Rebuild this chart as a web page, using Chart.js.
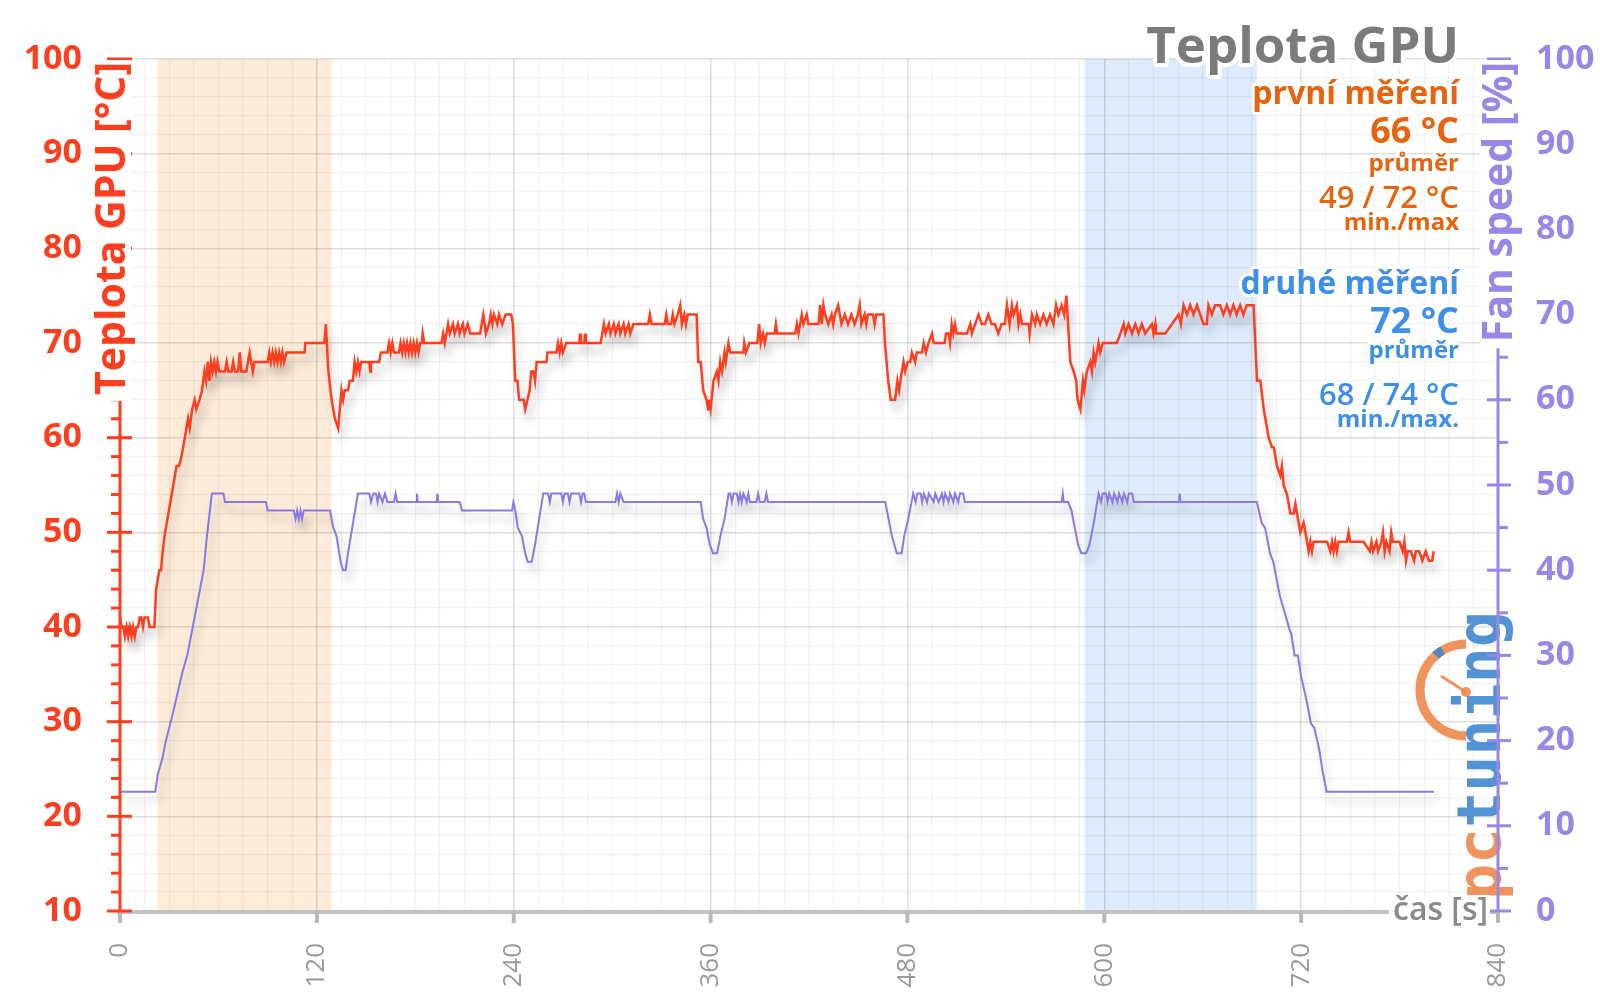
<!DOCTYPE html>
<html>
<head>
<meta charset="utf-8">
<script src="https://cdn.jsdelivr.net/npm/chart.js@4/dist/chart.umd.min.js"></script>
<style>
  html, body { margin: 0; padding: 0; background: #fff; }
</style>
</head>
<body>
<canvas id="chart" width="1600" height="1008"></canvas>
<script>
// time [s] / GPU temperature [°C]
const tempSeries = [
  [0,41],[1,40],[2,40],[3,39],[4,40],[5,39],[6,40],[7,39],[8,40],[9,39],[10,40],[11,40],[12,41],[13,41],[14,40],[15,41],[17,41],[18,40],[21,40],
  [22,44],[23,45],[24,46],[25,46],[26,48],[27.5,50],[29.5,52],[31.5,54],[33.5,56],[34.5,57],[36,57],[37.5,58],[38.5,59],[40.5,61],[41.5,62],[42.5,61],[44,63],[45.5,64],[46.5,63],[48.5,64],[50,65],[51.5,67],[52.5,66],[53.5,68],[54.5,66],[55.5,68],[56.5,67],[57.5,68],[58.5,67],[59.5,68],[60.5,67],
  [64,67],[65,68],[66,67],[68,67],[69,68],[70,67],[72,67],[73,69],[74,67],[77,67],[78,68],[79,69],[80,68],[81,67],[82,68],[90,68],[91,69],[92,68],[93,69],[94,68],[95,69],[96,68],[97,69],[98,68],[99,69],[100,68],[101.5,69],[112.5,69],[113,70],[124.5,70],[125.5,72],
  [127,67],[129,64],[131,62],[133,61],[134,63],[135,65],[136,64],[137,65],[139,65],[140,66],[142,66],[143,68],[144,67],[145,68],[146,67],[147,68],[152,68],[152.5,67],[153,68],[158,68],[159,69],[163,69],[164,70],[165,69],[166,70],[167,69],[170,69],
  [171,70],[172,69],[173,70],[174,69],[175,70],[176,69],[177,70],[178,69],[179,70],[180,69],[181,70],[182,69],[183,70],[184,70],[184.5,71],[185.5,70],[196,70],[197,71],[198,70],[200,72],[201,71],[203,72],[204,71],[206,72],[207,71],[209,72],[210,71],[212,72],[213.5,71],[219.5,71],[221.5,73],[223,71],[225,72],[226,73],[227,72],[228,73],[230,72],[231,73],[233,72],[235,73],[238.5,73],[239.5,72],
  [240.9,66],[242.3,66],[243.3,64],[246,64],[247,63],[248.4,64],[249.7,65],[250.7,67],[252,67],[253,66],[254,68],[260,68],[260.5,69],[266,69],[267,70],[268,69],[269,70],[270,69],[272,70],[280,70],[280.5,71],[281,70],[283,70],[283.5,71],[284,70],[293,70],[294,71],[295,72],[296,71],[298,72],[299,71],[301,72],[302,71],[304,72],[305,71],[307,72],[308,71],[310,72],[311,71],[313,72],[322,72],[323,73],[324,72],[332,72],[333,73],[334,72],[336,72],[337,73],[338,72],[340,73],[341.5,74],[342.5,72],[344,73],[345,72],[346,73],[351.5,73],
  [352.5,68],[354,68],[355.5,65],[357.5,64],[358.5,63],[359,64],[360,63],[361.8,66],[363.8,67],[364.8,66],[365.9,68],[367,67],[368.5,69],[369.3,68],[370.9,70],[372,69],[380,69],[380.5,70],[381.5,69],[383.7,70],[388.5,70],[389.6,72],[390.6,70],[392,71],[393,70],[394.3,71],[399,71],[399.8,72],[400.6,71],[411.6,71],[412.6,72],[413.6,71],[414.6,72],[415.6,73],[416.6,72],[418.6,73],[419.6,72],[425.8,72],[426.8,74],[427.8,72],[428.8,74],[429.8,73],[431.8,72],[433.8,73],[434.8,72],[435.8,73],[437.8,74],[439.8,72],[441.8,73],[443.8,72],[445.8,73],[447.8,72],[449.8,73],[450.9,74],[451.9,72],[453.9,73],[454.9,72],[455.9,73],[459,73],[460,72],[461,73],[465.4,73],
  [466.3,70],[468.3,66],[469.8,64],[472.5,64],[473.9,66],[474.9,65],[476.6,67],[477.6,68],[478.6,67],[480.2,68],[481.7,68],[482.7,69],[484.7,68],[485.7,69],[488.9,69],[489.9,70],[491.3,69],[492.9,70],[495,71],[496,70],[502.7,70],[503.5,71],[505,71],[506,70],[507,72],[508,71],[509,72],[510,71],[516.3,71],[518.3,72],
  [519.3,71],[521.3,72],[523.3,73],[525.3,72],[527.3,72],[529.3,73],[531.3,72],[533.3,72],[535.4,71],[537.4,72],[539.4,72],[540.7,74],[542.3,72],[543.7,74],[544.7,73],[546.7,74],[547.7,72],[548.8,73],[549.8,72],[554,72],[554.5,71],[555.9,73],[557.9,72],[558.9,73],[560.9,72],[562.9,73],[564.9,72],[566.9,73],[569,72],[570.6,74],[572,73],[574,74],[575.6,73],[576.9,75],
  [579.3,68],[581.3,67],[582.9,66],[583.7,64],[585.4,63],[587,66],[587.8,65],[589.4,67],[591.5,68],[592.5,67],[593.5,69],[594.5,68],[596.5,70],[597.5,69],[599.1,70],[607.7,70],[609.8,71],[611.8,72],[612.8,71],[614.8,72],[616.9,71],[618.9,72],[620.9,71],[622.9,72],[624.9,71],[629,72],[630,71],[631.1,72],[631.5,71],[637.2,71],[641.3,72],[645.3,73],[646.7,72],[648.3,74],[650.4,73],[652.4,74],[654.4,73],[656.5,74],[658.5,73],[660.5,72],[662.5,72],[663.5,74],[665.6,73],[667.6,74],[670.6,74],[672.6,73],[674.7,74],[676.7,73],[678.7,74],[680.7,73],[682.8,74],[684.8,73],[686.8,74],[691,74],
  [693.1,66],[695.1,66],[697.2,63],[700.2,60],[702.2,59],[703.3,59],[705.3,57],[707.3,56],[708.3,57],[709.3,55],[711.4,54],[713.4,52],[715.5,52],[716.5,53],[717.5,52],[719.5,50],[721.5,51],[722.6,50],[724.6,48],[725.6,49],[726.6,48],[727.6,49],[735.8,49],[737.8,48],[738.8,49],[739.8,48],[740.8,49],[741.8,48],[742.8,49],[747.9,49],[748.9,50],[749.9,49],[758,49],[761.9,48],[762.9,49],[763.9,48],[765.9,49],[766.9,48],[768.9,49],[769.9,50],[770.9,48],[771.9,49],[773.9,48],[774.9,50],[775.9,49],[779.9,49],[781.9,48],[782.9,49],[783.9,47],[784.9,48],[786.9,48],[788.9,47],[789.9,48],[791.9,48],[793.9,47],[795.9,48],[797.9,47],[799.9,47],[800.8,48]
];

// time [s] / fan speed [%]
const fanSeries = [
  [0,14],[21.5,14],[23,16],[26,18],[28,20],[32,23],[38,28],[41,30],[45,34],[49,38],[51,40],[53,44],[56,49],[63,49],[64,48],[89,48],[90,47],[106,47],[107,46],[108,47],[109,46],[110,47],[111,46],[112,47],[128,47],
  [130,45],[132,44],[134.5,41],[136,40],[137.5,40],[139,42],[142,45.5],[145,49],[152,49],[153,48],[154.5,49],[156,49],[157,48],[158,49],[160,48],[161.5,49],[163,48],[167,48],[168,49],[169,48],[180.5,48],[181,49],[181.5,48],[193,48],[193.5,49],[194,48],[207,48],[208.5,47],[239,47],[239.8,48],
  [241,47],[242.5,45],[245,44],[247,42],[248.5,41],[251,41],[253,43],[255.5,46],[258,49],[261,49],[262,48],[263,49],[269,49],[270,48],[271,49],[273,49],[274,48],[275,49],[280,49],[281,48],[282,49],[283,49],[284,48],[302,48],[303,49],[304,48],[305,49],[307,48],[354,48],
  [355.5,46],[357.5,45],[359.5,43],[361.5,42],[364,42],[366,44],[368.5,46],[371,49],[372,49],[373,48],[374,49],[376,49],[377,48],[378,49],[379,48],[380,49],[382,48],[383,49],[384,48],[388,48],[389,49],[390,48],[393,48],[394,49],[395,48],[466.5,48],
  [468.5,46],[470.5,44],[473.5,42],[476.5,42],[478,44],[480.5,46],[483.5,49],[485,48],[486,49],[488,49],[489,48],[490,49],[492,48],[493,49],[496,48],[497,49],[499,48],[501,49],[502,48],[503,49],[505,48],[506,49],[508,48],[509,49],[511,48],[512,49],[514,49],[515,48],[574,48],[574.7,49],[575.3,48],[578,48],
  [580,47],[582,45],[584,43],[586,42],[589,42],[591,43],[594,46],[596.5,49],[598,48],[599,49],[601,49],[602,48],[603,49],[605,48],[606,49],[608,48],[609,49],[611,48],[612,49],[614,48],[615,49],[617,49],[618,48],[645.5,48],[646,49],[646.5,48],[693,48],
  [696,45.5],[698,45],[701,42],[703,41],[707,37],[710,35],[713,33],[714,32.5],[716,30],[718,30],[720,27.5],[723,25],[726,22],[728,21.5],[731,19],[733,16.5],[735.5,14],[801,14]
];

const xTickLabels = [0, 120, 240, 360, 480, 600, 720, 840];
const tempTickLabels = [10, 20, 30, 40, 50, 60, 70, 80, 90, 100];
const fanTickLabels = [0, 10, 20, 30, 40, 50, 60, 70, 80, 90, 100];

// the two measured windows [s]
const windowStart = [23, 588];
const windowEnd = [129, 693];

const chartTitle = 'Teplota GPU';
const tempAxisTitle = 'Teplota GPU [°C]';
const fanAxisTitle = 'Fan speed [%]';
const timeAxisTitle = 'čas [s]';
const firstRunText = ['první měření', '66 °C', 'průměr', '49 / 72 °C', 'min./max'];
const secondRunText = ['druhé měření', '72 °C', 'průměr', '68 / 74 °C', 'min./max.'];

const RED = '#ff3d1f';
const PURPLE = '#9a86e6';
const FAN_LINE = '#8b79e4';
const ORANGE = '#e8630e';
const BLUE = '#3d8fea';
const FONT = '"Open Sans", "Noto Sans", sans-serif';
const windowColors = ['#fdebd9', '#ddebfc'];

function outlinedText(ctx, text, x, y, color, halo) {
  ctx.lineJoin = 'round';
  ctx.strokeStyle = '#fff';
  ctx.lineWidth = halo;
  ctx.strokeText(text, x, y);
  ctx.fillStyle = color;
  ctx.fillText(text, x, y);
}

function rotatedTitle(ctx, text, cx, top, font, color) {
  ctx.save();
  ctx.font = font;
  const w = ctx.measureText(text).width;
  ctx.translate(cx, top);
  ctx.rotate(-Math.PI / 2);
  ctx.fillStyle = '#fff';
  ctx.fillRect(-w - 6, -19, w + 8, 38);
  ctx.textAlign = 'right';
  ctx.textBaseline = 'middle';
  ctx.fillStyle = color;
  ctx.fillText(text, 0, 1);
  ctx.restore();
}

function drawLogo(ctx) {
  ctx.save();
  ctx.globalAlpha = 0.9;
  ctx.strokeStyle = '#f0874a';
  ctx.lineWidth = 9;
  ctx.beginPath();
  ctx.arc(1466, 690, 46, Math.PI * 0.5, Math.PI * 1.5);
  ctx.stroke();
  ctx.strokeStyle = '#3f86d0';
  ctx.beginPath();
  ctx.arc(1466, 690, 46, Math.PI * 1.27, Math.PI * 1.33);
  ctx.stroke();
  ctx.strokeStyle = '#f0874a';
  ctx.lineWidth = 3;
  ctx.beginPath();
  ctx.moveTo(1466, 692);
  ctx.lineTo(1441, 676);
  ctx.stroke();
  ctx.fillStyle = '#f0874a';
  ctx.beginPath();
  ctx.arc(1466, 692, 5, 0, Math.PI * 2);
  ctx.fill();
  ctx.translate(1500, 900);
  ctx.rotate(-Math.PI / 2);
  ctx.font = 'bold 60px "DejaVu Sans Mono"';
  ctx.textAlign = 'left';
  ctx.textBaseline = 'alphabetic';
  ctx.fillStyle = '#f0874a';
  ctx.fillText('pc', 0, 0);
  const w = ctx.measureText('pc').width;
  ctx.fillStyle = '#3f86d0';
  ctx.fillText('tuning', w, 0);
  ctx.restore();
}

const decor = {
  id: 'decor',
  beforeDraw(chart) {
    const { ctx, chartArea: a, scales: { x } } = chart;
    ctx.save();
    ctx.fillStyle = '#fff';
    ctx.fillRect(0, 0, chart.width, chart.height);
    windowStart.forEach((s, i) => {
      const x0 = x.getPixelForValue(s);
      const x1 = x.getPixelForValue(windowEnd[i]);
      ctx.fillStyle = windowColors[i];
      ctx.fillRect(x0, a.top, x1 - x0, a.bottom - a.top);
    });
    ctx.restore();
  },
  beforeDatasetsDraw(chart) {
    drawLogo(chart.ctx);
  },
  beforeDatasetDraw(chart) {
    const ctx = chart.ctx;
    ctx.save();
    ctx.shadowColor = 'rgba(0,0,0,0.22)';
    ctx.shadowBlur = 10;
    ctx.shadowOffsetX = 4;
    ctx.shadowOffsetY = 9;
  },
  afterDatasetDraw(chart) {
    chart.ctx.restore();
  },
  afterDraw(chart) {
    const { ctx, chartArea: a, scales: { x, y, y1 } } = chart;
    ctx.save();

    // time axis line + ticks
    ctx.strokeStyle = '#c2c2c2';
    ctx.lineWidth = 4;
    ctx.beginPath();
    ctx.moveTo(a.left - 3, a.bottom + 1);
    ctx.lineTo(a.right, a.bottom + 1);
    ctx.stroke();
    ctx.strokeStyle = '#b8b8b8';
    xTickLabels.forEach(v => {
      const px = x.getPixelForValue(v);
      ctx.beginPath();
      ctx.moveTo(px, a.bottom);
      ctx.lineTo(px, a.bottom + 12);
      ctx.stroke();
    });

    // temperature axis
    ctx.strokeStyle = RED;
    ctx.lineWidth = 3;
    ctx.beginPath();
    ctx.moveTo(a.left, a.top);
    ctx.lineTo(a.left, a.bottom);
    ctx.stroke();
    for (let v = 10; v <= 100; v += 2) {
      const py = y.getPixelForValue(v);
      const major = v % 10 === 0;
      ctx.beginPath();
      ctx.moveTo(a.left - (major ? 13 : 9), py);
      ctx.lineTo(a.left + (major ? 12 : 0), py);
      ctx.stroke();
    }

    // fan axis
    ctx.strokeStyle = PURPLE;
    ctx.beginPath();
    ctx.moveTo(a.right, a.top);
    ctx.lineTo(a.right, a.bottom);
    ctx.stroke();
    for (let v = 0; v <= 100; v += 5) {
      const py = y1.getPixelForValue(v);
      const major = v % 10 === 0;
      ctx.beginPath();
      ctx.moveTo(a.right - (major ? 11 : 0), py);
      ctx.lineTo(a.right + (major ? 13 : 10), py);
      ctx.stroke();
    }

    rotatedTitle(ctx, tempAxisTitle, 112, a.top + 3, 'bold 41px ' + FONT, RED);
    rotatedTitle(ctx, fanAxisTitle, a.right + 1, a.top + 3, 'bold 41px ' + FONT, PURPLE);

    // time axis title
    ctx.font = '600 32px ' + FONT;
    const tw = ctx.measureText(timeAxisTitle).width;
    ctx.fillStyle = '#fff';
    ctx.fillRect(1488 - tw - 4, a.bottom - 16, tw + 6, 32);
    ctx.textAlign = 'right';
    ctx.textBaseline = 'middle';
    ctx.fillStyle = '#8a8a8a';
    ctx.fillText(timeAxisTitle, 1488, a.bottom);

    // chart title and summary notes
    ctx.font = 'bold 51px ' + FONT;
    outlinedText(ctx, chartTitle, 1459, 48, '#7b7b7b', 8);
    const sizes = ['bold 32px ', 'bold 36px ', 'bold 24px ', '600 31px ', 'bold 24px '];
    const firstY = [95, 133, 164, 199, 223];
    const secondY = [285, 323, 351, 396, 420];
    firstRunText.forEach((t, i) => {
      ctx.font = sizes[i] + FONT;
      outlinedText(ctx, t, 1459, firstY[i], ORANGE, 6);
    });
    secondRunText.forEach((t, i) => {
      ctx.font = sizes[i] + FONT;
      outlinedText(ctx, t, 1459, secondY[i], BLUE, 6);
    });
    ctx.restore();
  }
};

const chart = new Chart(document.getElementById('chart'), {
  type: 'line',
  data: {
    datasets: [{
      label: 'Teplota GPU',
      data: tempSeries.map(p => ({ x: p[0], y: p[1] })),
      yAxisID: 'y',
      borderColor: RED,
      borderWidth: 2.5,
      pointRadius: 0,
      tension: 0
    }, {
      label: 'Fan speed',
      data: fanSeries.map(p => ({ x: p[0], y: p[1] })),
      yAxisID: 'y1',
      borderColor: FAN_LINE,
      borderWidth: 2,
      pointRadius: 0,
      tension: 0
    }]
  },
  options: {
    responsive: false,
    animation: false,
    events: [],
    layout: { padding: { top: 59, left: 0, right: 0, bottom: 0 } },
    plugins: { legend: { display: false }, tooltip: { enabled: false } },
    scales: {
      x: {
        type: 'linear',
        min: 0,
        max: 840,
        afterFit: s => { s.height = 97; },
        border: { display: false },
        grid: {
          drawTicks: false,
          color: c => xTickLabels.includes(c.tick.value) ? 'rgba(0,0,0,0.13)' : 'rgba(0,0,0,0.05)',
          lineWidth: c => xTickLabels.includes(c.tick.value) ? 1.5 : 1.2
        },
        ticks: {
          stepSize: 15,
          autoSkip: false,
          minRotation: 90,
          maxRotation: 90,
          padding: 32,
          color: '#9a9a9a',
          font: { family: FONT, size: 26 },
          callback: v => xTickLabels.includes(v) ? String(v) : ''
        }
      },
      y: {
        position: 'left',
        min: 10,
        max: 100,
        afterFit: s => { s.width = 120; },
        border: { display: false },
        grid: {
          drawTicks: false,
          color: c => tempTickLabels.includes(c.tick.value) ? 'rgba(0,0,0,0.13)' : 'rgba(0,0,0,0.05)',
          lineWidth: c => tempTickLabels.includes(c.tick.value) ? 1.5 : 1.2
        },
        ticks: {
          stepSize: 2,
          autoSkip: false,
          padding: 38,
          color: RED,
          font: { family: FONT, size: 34, weight: 'bold' },
          callback: v => tempTickLabels.includes(v) ? String(v) : ''
        }
      },
      y1: {
        position: 'right',
        min: 0,
        max: 100,
        afterFit: s => { s.width = 102; },
        border: { display: false },
        grid: { display: false, drawTicks: false },
        ticks: {
          stepSize: 10,
          autoSkip: false,
          padding: 38,
          color: PURPLE,
          font: { family: FONT, size: 34, weight: 'bold' },
          callback: v => fanTickLabels.includes(v) ? String(v) : ''
        }
      }
    }
  },
  plugins: [decor]
});
</script>
</body>
</html>
